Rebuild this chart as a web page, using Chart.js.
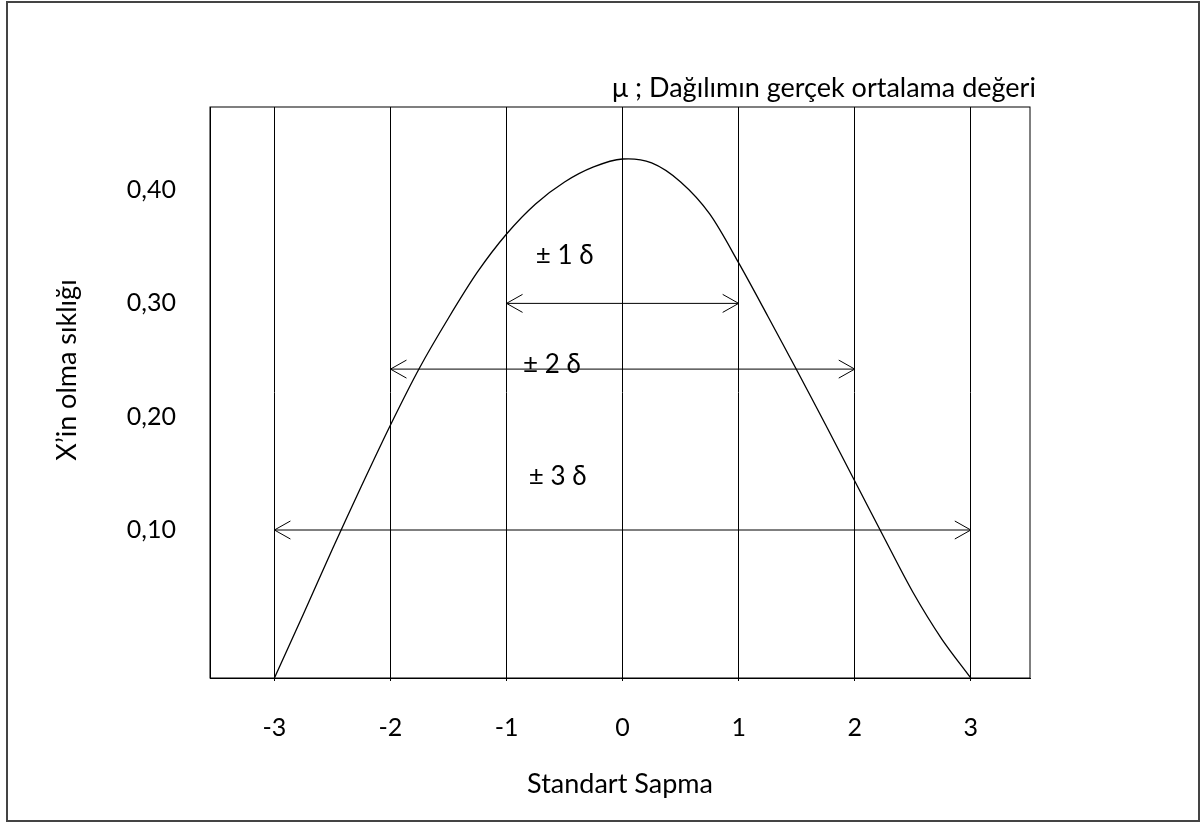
<!DOCTYPE html>
<html>
<head>
<meta charset="utf-8">
<script src="https://cdn.jsdelivr.net/npm/chart.js"></script>
<style>
    html, body { margin: 0; padding: 0; background: #fff; }
    #wrap { width: 1201px; height: 823px; }
</style>
</head>
<body>
<div id="wrap"><canvas id="chart" width="1201" height="823"></canvas></div>
<script>
// curve every quarter standard deviation
const curveX = [-3.0, -2.75, -2.5, -2.25, -2.0, -1.75, -1.5, -1.25, -1.0, -0.75, -0.5, -0.25, 0.0,
                0.25, 0.5, 0.75, 1.0, 1.25, 1.5, 1.75, 2.0, 2.25, 2.5, 2.75, 3.0];
const curveY = [-0.0306, 0.0259, 0.0832, 0.1388, 0.1927, 0.2430, 0.2871, 0.3277, 0.3612, 0.3877, 0.4071, 0.4204, 0.4274,
                0.4239, 0.4071, 0.3789, 0.3357, 0.2889, 0.2412, 0.1927, 0.1433, 0.0938, 0.0453, 0.0038, -0.0306];

const xTicks = [-3, -2, -1, 0, 1, 2, 3];
const yTicks = [0.10, 0.20, 0.30, 0.40];

// the three +/- arrows
const arrowSpan = [1, 2, 3];
const arrowY = [0.30, 0.242, 0.10];
const arrowLabels = ['± 1 δ', '± 2 δ', '± 3 δ'];
const labelX = [-0.50, -0.61, -0.56];
const labelY = [0.342, 0.246, 0.147];

const xTitle = 'Standart Sapma';
const yTitle = 'X’in olma sıklığı';
const topNote = 'μ ; Dağılımın gerçek ortalama değeri';

const FONT = 'Lato';
Chart.defaults.font.family = FONT;
Chart.defaults.color = '#000';

const datasets = [{
    data: curveX.map((x, i) => ({ x: x, y: curveY[i] })),
    showLine: true,
    borderColor: '#000',
    borderWidth: 1.3,
    pointRadius: 0,
    tension: 0.3
}];
arrowSpan.forEach((s, i) => {
    datasets.push({
        data: [{ x: -s, y: arrowY[i] }, { x: s, y: arrowY[i] }],
        showLine: true,
        borderColor: '#000',
        borderWidth: 1,
        pointRadius: 0
    });
});

const extras = {
    id: 'extras',
    beforeDraw(chart) {
        const ctx = chart.ctx;
        ctx.save();
        ctx.fillStyle = '#fff';
        ctx.fillRect(0, 0, chart.width, chart.height);
        ctx.strokeStyle = '#444';
        ctx.lineWidth = 2;
        ctx.strokeRect(7, 2, 1192, 819);
        ctx.restore();
    },
    afterDatasetsDraw(chart) {
        const ctx = chart.ctx;
        const a = chart.chartArea;
        const xs = chart.scales.x, ys = chart.scales.y;
        ctx.save();
        ctx.strokeStyle = '#000';
        ctx.lineWidth = 1;
        ctx.strokeRect(a.left, a.top, a.right - a.left, a.bottom - a.top);

        // arrow heads
        arrowSpan.forEach((s, i) => {
            const x1 = xs.getPixelForValue(-s), x2 = xs.getPixelForValue(s);
            const py = ys.getPixelForValue(arrowY[i]);
            ctx.beginPath();
            ctx.moveTo(x1 + 16, py - 9); ctx.lineTo(x1, py); ctx.lineTo(x1 + 16, py + 9);
            ctx.moveTo(x2 - 16, py - 9); ctx.lineTo(x2, py); ctx.lineTo(x2 - 16, py + 9);
            ctx.stroke();
        });

        ctx.fillStyle = '#000';
        ctx.font = '26px ' + FONT;
        ctx.textAlign = 'center';
        ctx.textBaseline = 'middle';
        arrowLabels.forEach((t, i) => {
            ctx.fillText(t, xs.getPixelForValue(labelX[i]), ys.getPixelForValue(labelY[i]));
        });

        ctx.font = '27px ' + FONT;
        ctx.textAlign = 'left';
        ctx.fillText(topNote, 612, 88);

        ctx.translate(67, 370);
        ctx.rotate(-Math.PI / 2);
        ctx.textAlign = 'center';
        ctx.fillText(yTitle, 0, 0);
        ctx.restore();
    }
};

new Chart(document.getElementById('chart'), {
    type: 'scatter',
    data: { datasets: datasets },
    options: {
        responsive: false,
        animation: false,
        layout: { padding: { left: 0, top: 107, right: 171, bottom: 0 } },
        plugins: { legend: { display: false }, tooltip: { enabled: false } },
        scales: {
            x: {
                type: 'linear',
                min: -3.555,
                max: 3.51,
                afterBuildTicks: scale => { scale.ticks = xTicks.map(v => ({ value: v })); },
                afterFit: scale => { scale.height = 145; },
                grid: { color: '#000', lineWidth: 1, drawTicks: true, tickLength: 3, tickColor: '#000' },
                border: { display: true, color: '#000', width: 1 },
                ticks: { font: { size: 25 }, padding: 32, maxRotation: 0, callback: v => String(v) },
                title: { display: true, text: xTitle, font: { size: 27 }, padding: { top: 0, bottom: 23 } }
            },
            y: {
                type: 'linear',
                min: -0.0306,
                max: 0.4733,
                afterBuildTicks: scale => { scale.ticks = yTicks.map(v => ({ value: v })); },
                afterFit: scale => { scale.width = 210; },
                grid: { display: false, drawTicks: false },
                border: { display: true, color: '#000', width: 1 },
                ticks: { font: { size: 25 }, padding: 34, callback: v => v.toFixed(2).replace('.', ',') }
            }
        }
    },
    plugins: [extras]
});
</script>
</body>
</html>
